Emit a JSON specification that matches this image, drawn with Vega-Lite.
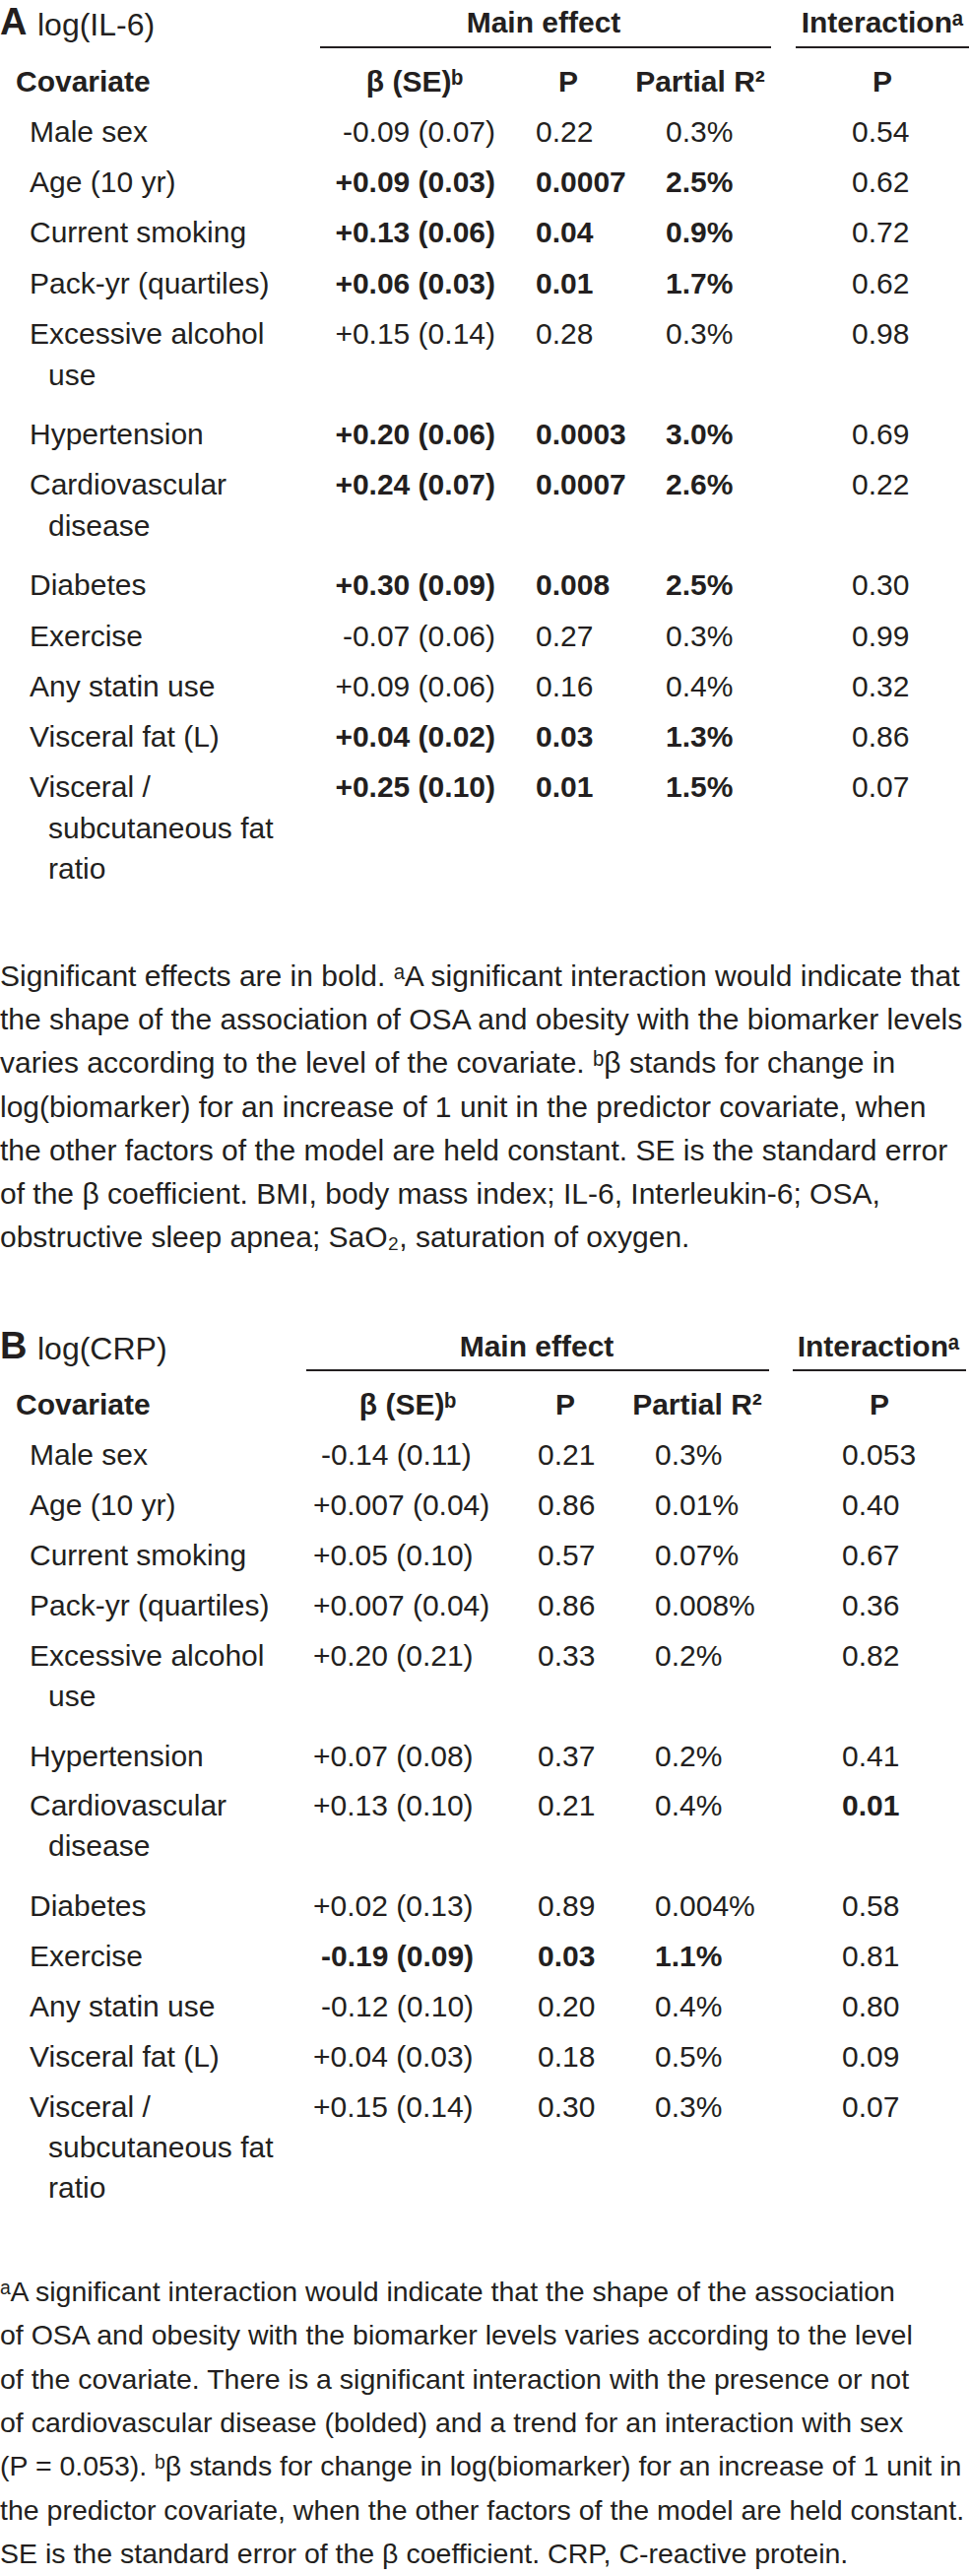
{
  "$schema": "https://vega.github.io/schema/vega-lite/v6.json",
  "padding": 0,
  "background": "white",
  "spacing": 45,
  "config": {
    "view": {"stroke": null},
    "text": {"font": "Liberation Sans, Arial, sans-serif", "fontSize": 30, "fill": "#231f20", "baseline": "middle"},
    "rule": {"stroke": "#231f20", "strokeWidth": 2}
  },
  "datasets": {
    "panels": [{"panel": "A", "biomarker": "log(IL-6)"}, {"panel": "B", "biomarker": "log(CRP)"}],
    "groups": [{"group": "Main effect"}, {"group": "Interactionᵃ"}],
    "columns": [
      {"column": "covariate", "label": "Covariate"},
      {"column": "beta", "label": "β (SE)ᵇ"},
      {"column": "p", "label": "P"},
      {"column": "r2", "label": "Partial R²"},
      {"column": "pint", "label": "P"}
    ],
    "il6": [
      {"line": 0, "covariate": "Male sex", "beta": "-0.09 (0.07)", "p": "0.22", "r2": "0.3%", "pint": "0.54", "main_sig": false, "int_sig": false},
      {"line": 1, "covariate": "Age (10 yr)", "beta": "+0.09 (0.03)", "p": "0.0007", "r2": "2.5%", "pint": "0.62", "main_sig": true, "int_sig": false},
      {"line": 2, "covariate": "Current smoking", "beta": "+0.13 (0.06)", "p": "0.04", "r2": "0.9%", "pint": "0.72", "main_sig": true, "int_sig": false},
      {"line": 3, "covariate": "Pack-yr (quartiles)", "beta": "+0.06 (0.03)", "p": "0.01", "r2": "1.7%", "pint": "0.62", "main_sig": true, "int_sig": false},
      {"line": 4, "covariate": "Excessive alcohol", "covariate_more": "use", "beta": "+0.15 (0.14)", "p": "0.28", "r2": "0.3%", "pint": "0.98", "main_sig": false, "int_sig": false},
      {"line": 6, "covariate": "Hypertension", "beta": "+0.20 (0.06)", "p": "0.0003", "r2": "3.0%", "pint": "0.69", "main_sig": true, "int_sig": false},
      {"line": 7, "covariate": "Cardiovascular", "covariate_more": "disease", "beta": "+0.24 (0.07)", "p": "0.0007", "r2": "2.6%", "pint": "0.22", "main_sig": true, "int_sig": false},
      {"line": 9, "covariate": "Diabetes", "beta": "+0.30 (0.09)", "p": "0.008", "r2": "2.5%", "pint": "0.30", "main_sig": true, "int_sig": false},
      {"line": 10, "covariate": "Exercise", "beta": "-0.07 (0.06)", "p": "0.27", "r2": "0.3%", "pint": "0.99", "main_sig": false, "int_sig": false},
      {"line": 11, "covariate": "Any statin use", "beta": "+0.09 (0.06)", "p": "0.16", "r2": "0.4%", "pint": "0.32", "main_sig": false, "int_sig": false},
      {"line": 12, "covariate": "Visceral fat (L)", "beta": "+0.04 (0.02)", "p": "0.03", "r2": "1.3%", "pint": "0.86", "main_sig": true, "int_sig": false},
      {"line": 13, "covariate": "Visceral /", "covariate_more": "subcutaneous fat\nratio", "beta": "+0.25 (0.10)", "p": "0.01", "r2": "1.5%", "pint": "0.07", "main_sig": true, "int_sig": false}
    ],
    "crp": [
      {"line": 0, "covariate": "Male sex", "beta": "-0.14 (0.11)", "p": "0.21", "r2": "0.3%", "pint": "0.053", "main_sig": false, "int_sig": false},
      {"line": 1, "covariate": "Age (10 yr)", "beta": "+0.007 (0.04)", "p": "0.86", "r2": "0.01%", "pint": "0.40", "main_sig": false, "int_sig": false},
      {"line": 2, "covariate": "Current smoking", "beta": "+0.05 (0.10)", "p": "0.57", "r2": "0.07%", "pint": "0.67", "main_sig": false, "int_sig": false},
      {"line": 3, "covariate": "Pack-yr (quartiles)", "beta": "+0.007 (0.04)", "p": "0.86", "r2": "0.008%", "pint": "0.36", "main_sig": false, "int_sig": false},
      {"line": 4, "covariate": "Excessive alcohol", "covariate_more": "use", "beta": "+0.20 (0.21)", "p": "0.33", "r2": "0.2%", "pint": "0.82", "main_sig": false, "int_sig": false},
      {"line": 6, "covariate": "Hypertension", "beta": "+0.07 (0.08)", "p": "0.37", "r2": "0.2%", "pint": "0.41", "main_sig": false, "int_sig": false},
      {"line": 7, "covariate": "Cardiovascular", "covariate_more": "disease", "beta": "+0.13 (0.10)", "p": "0.21", "r2": "0.4%", "pint": "0.01", "main_sig": false, "int_sig": true},
      {"line": 9, "covariate": "Diabetes", "beta": "+0.02 (0.13)", "p": "0.89", "r2": "0.004%", "pint": "0.58", "main_sig": false, "int_sig": false},
      {"line": 10, "covariate": "Exercise", "beta": "-0.19 (0.09)", "p": "0.03", "r2": "1.1%", "pint": "0.81", "main_sig": true, "int_sig": false},
      {"line": 11, "covariate": "Any statin use", "beta": "-0.12 (0.10)", "p": "0.20", "r2": "0.4%", "pint": "0.80", "main_sig": false, "int_sig": false},
      {"line": 12, "covariate": "Visceral fat (L)", "beta": "+0.04 (0.03)", "p": "0.18", "r2": "0.5%", "pint": "0.09", "main_sig": false, "int_sig": false},
      {"line": 13, "covariate": "Visceral /", "covariate_more": "subcutaneous fat\nratio", "beta": "+0.15 (0.14)", "p": "0.30", "r2": "0.3%", "pint": "0.07", "main_sig": false, "int_sig": false}
    ],
    "notesA": [
      {"line": 0, "note": "Significant effects are in bold. ᵃA significant interaction would indicate that"},
      {"line": 1, "note": "the shape of the association of OSA and obesity with the biomarker levels"},
      {"line": 2, "note": "varies according to the level of the covariate. ᵇβ stands for change in"},
      {"line": 3, "note": "log(biomarker) for an increase of 1 unit in the predictor covariate, when"},
      {"line": 4, "note": "the other factors of the model are held constant. SE is the standard error"},
      {"line": 5, "note": "of the β coefficient. BMI, body mass index; IL-6, Interleukin-6; OSA,"},
      {"line": 6, "note": "obstructive sleep apnea; SaO₂, saturation of oxygen."}
    ],
    "notesB": [
      {"line": 0, "note": "ᵃA significant interaction would indicate that the shape of the association"},
      {"line": 1, "note": "of OSA and obesity with the biomarker levels varies according to the level"},
      {"line": 2, "note": "of the covariate. There is a significant interaction with the presence or not"},
      {"line": 3, "note": "of cardiovascular disease (bolded) and a trend for an interaction with sex"},
      {"line": 4, "note": "(P = 0.053). ᵇβ stands for change in log(biomarker) for an increase of 1 unit in"},
      {"line": 5, "note": "the predictor covariate, when the other factors of the model are held constant."},
      {"line": 6, "note": "SE is the standard error of the β coefficient. CRP, C-reactive protein."}
    ]
  },
  "vconcat": [
    {
      "spacing": 0,
      "bounds": "flush",
      "vconcat": [
        {
          "width": 985, "height": 48,
          "layer": [
            {"data": {"name": "panels"}, "transform": [{"filter": "datum.panel == 'A'"}],
             "mark": {"type": "text", "align": "left", "fontWeight": "bold", "fontSize": 38},
             "encoding": {"text": {"field": "panel"}, "x": {"datum": 0, "type": "quantitative", "axis": null, "scale": {"domain": [0,1,2,3,4,5,6,7], "range": [0,38,325,552,783,808,896,984], "zero": false, "nice": false}}}},
            {"data": {"name": "panels"}, "transform": [{"filter": "datum.panel == 'A'"}],
             "mark": {"type": "text", "align": "left", "fontSize": 32, "dy": 2},
             "encoding": {"text": {"field": "biomarker"}, "x": {"datum": 1, "type": "quantitative", "axis": null, "scale": {"domain": [0,1,2,3,4,5,6,7], "range": [0,38,325,552,783,808,896,984], "zero": false, "nice": false}}}},
            {"data": {"name": "groups"}, "transform": [{"filter": "datum.group == 'Main effect'"}],
             "mark": {"type": "text", "align": "center", "fontWeight": "bold"},
             "encoding": {"text": {"field": "group"}, "x": {"datum": 3, "type": "quantitative", "axis": null, "scale": {"domain": [0,1,2,3,4,5,6,7], "range": [0,38,325,552,783,808,896,984], "zero": false, "nice": false}}}},
            {"data": {"name": "groups"}, "transform": [{"filter": "datum.group != 'Main effect'"}],
             "mark": {"type": "text", "align": "center", "fontWeight": "bold"},
             "encoding": {"text": {"field": "group"}, "x": {"datum": 6, "type": "quantitative", "axis": null, "scale": {"domain": [0,1,2,3,4,5,6,7], "range": [0,38,325,552,783,808,896,984], "zero": false, "nice": false}}}},
            {"data": {"name": "groups"}, "transform": [{"filter": "datum.group == 'Main effect'"}],
             "mark": {"type": "rule"},
             "encoding": {"x": {"datum": 2, "type": "quantitative", "axis": null, "scale": {"domain": [0,1,2,3,4,5,6,7], "range": [0,38,325,552,783,808,896,984], "zero": false, "nice": false}}, "x2": {"datum": 4}, "y": {"value": "height"}}},
            {"data": {"name": "groups"}, "transform": [{"filter": "datum.group != 'Main effect'"}],
             "mark": {"type": "rule"},
             "encoding": {"x": {"datum": 5, "type": "quantitative", "axis": null, "scale": {"domain": [0,1,2,3,4,5,6,7], "range": [0,38,325,552,783,808,896,984], "zero": false, "nice": false}}, "x2": {"datum": 7}, "y": {"value": "height"}}}
          ]
        },
        {
          "width": 985, "height": 912,
          "layer": [
            {"data": {"name": "columns"}, "transform": [{"filter": "datum.column == 'covariate'"}],
             "mark": {"type": "text", "align": "left", "fontWeight": "bold"},
             "encoding": {"text": {"field": "label"},
               "x": {"datum": 0, "type": "quantitative", "axis": null, "scale": {"domain": [0,1,2,3,4,5,6,7,8,9], "range": [16,30,421,503,544,577,676,711,865,896], "zero": false, "nice": false}},
               "y": {"datum": -1, "type": "quantitative", "axis": null, "scale": {"domain": [-1, 13], "range": [36, 752], "zero": false, "nice": false}}}},
            {"data": {"name": "columns"}, "transform": [{"filter": "datum.column == 'beta'"}],
             "mark": {"type": "text", "align": "center", "fontWeight": "bold"},
             "encoding": {"text": {"field": "label"},
               "x": {"datum": 2, "type": "quantitative", "axis": null, "scale": {"domain": [0,1,2,3,4,5,6,7,8,9], "range": [16,30,421,503,544,577,676,711,865,896], "zero": false, "nice": false}},
               "y": {"datum": -1, "type": "quantitative", "axis": null, "scale": {"domain": [-1, 13], "range": [36, 752], "zero": false, "nice": false}}}},
            {"data": {"name": "columns"}, "transform": [{"filter": "datum.column == 'p'"}],
             "mark": {"type": "text", "align": "center", "fontWeight": "bold"},
             "encoding": {"text": {"field": "label"},
               "x": {"datum": 5, "type": "quantitative", "axis": null, "scale": {"domain": [0,1,2,3,4,5,6,7,8,9], "range": [16,30,421,503,544,577,676,711,865,896], "zero": false, "nice": false}},
               "y": {"datum": -1, "type": "quantitative", "axis": null, "scale": {"domain": [-1, 13], "range": [36, 752], "zero": false, "nice": false}}}},
            {"data": {"name": "columns"}, "transform": [{"filter": "datum.column == 'r2'"}],
             "mark": {"type": "text", "align": "center", "fontWeight": "bold"},
             "encoding": {"text": {"field": "label"},
               "x": {"datum": 7, "type": "quantitative", "axis": null, "scale": {"domain": [0,1,2,3,4,5,6,7,8,9], "range": [16,30,421,503,544,577,676,711,865,896], "zero": false, "nice": false}},
               "y": {"datum": -1, "type": "quantitative", "axis": null, "scale": {"domain": [-1, 13], "range": [36, 752], "zero": false, "nice": false}}}},
            {"data": {"name": "columns"}, "transform": [{"filter": "datum.column == 'pint'"}],
             "mark": {"type": "text", "align": "center", "fontWeight": "bold"},
             "encoding": {"text": {"field": "label"},
               "x": {"datum": 9, "type": "quantitative", "axis": null, "scale": {"domain": [0,1,2,3,4,5,6,7,8,9], "range": [16,30,421,503,544,577,676,711,865,896], "zero": false, "nice": false}},
               "y": {"datum": -1, "type": "quantitative", "axis": null, "scale": {"domain": [-1, 13], "range": [36, 752], "zero": false, "nice": false}}}},
            {"data": {"name": "il6"},
             "mark": {"type": "text", "align": "left"},
             "encoding": {"text": {"field": "covariate"},
               "x": {"datum": 1, "type": "quantitative", "axis": null, "scale": {"domain": [0,1,2,3,4,5,6,7,8,9], "range": [16,30,421,503,544,577,676,711,865,896], "zero": false, "nice": false}},
               "y": {"field": "line", "type": "quantitative", "axis": null, "scale": {"domain": [-1, 13], "range": [36, 752], "zero": false, "nice": false}}}},
            {"data": {"name": "il6"}, "transform": [{"filter": "datum.covariate_more"}],
             "mark": {"type": "text", "align": "left", "lineBreak": "\n", "lineHeight": 41, "dx": 19, "dy": 42},
             "encoding": {"text": {"field": "covariate_more"},
               "x": {"datum": 1, "type": "quantitative", "axis": null, "scale": {"domain": [0,1,2,3,4,5,6,7,8,9], "range": [16,30,421,503,544,577,676,711,865,896], "zero": false, "nice": false}},
               "y": {"field": "line", "type": "quantitative", "axis": null, "scale": {"domain": [-1, 13], "range": [36, 752], "zero": false, "nice": false}}}},
            {"data": {"name": "il6"}, "transform": [{"filter": "!datum.main_sig"}],
             "mark": {"type": "text", "align": "right"},
             "encoding": {"text": {"field": "beta"},
               "x": {"datum": 3, "type": "quantitative", "axis": null, "scale": {"domain": [0,1,2,3,4,5,6,7,8,9], "range": [16,30,421,503,544,577,676,711,865,896], "zero": false, "nice": false}},
               "y": {"field": "line", "type": "quantitative", "axis": null, "scale": {"domain": [-1, 13], "range": [36, 752], "zero": false, "nice": false}}}},
            {"data": {"name": "il6"}, "transform": [{"filter": "datum.main_sig"}],
             "mark": {"type": "text", "align": "right", "fontWeight": "bold"},
             "encoding": {"text": {"field": "beta"},
               "x": {"datum": 3, "type": "quantitative", "axis": null, "scale": {"domain": [0,1,2,3,4,5,6,7,8,9], "range": [16,30,421,503,544,577,676,711,865,896], "zero": false, "nice": false}},
               "y": {"field": "line", "type": "quantitative", "axis": null, "scale": {"domain": [-1, 13], "range": [36, 752], "zero": false, "nice": false}}}},
            {"data": {"name": "il6"}, "transform": [{"filter": "!datum.main_sig"}],
             "mark": {"type": "text", "align": "left"},
             "encoding": {"text": {"field": "p"},
               "x": {"datum": 4, "type": "quantitative", "axis": null, "scale": {"domain": [0,1,2,3,4,5,6,7,8,9], "range": [16,30,421,503,544,577,676,711,865,896], "zero": false, "nice": false}},
               "y": {"field": "line", "type": "quantitative", "axis": null, "scale": {"domain": [-1, 13], "range": [36, 752], "zero": false, "nice": false}}}},
            {"data": {"name": "il6"}, "transform": [{"filter": "datum.main_sig"}],
             "mark": {"type": "text", "align": "left", "fontWeight": "bold"},
             "encoding": {"text": {"field": "p"},
               "x": {"datum": 4, "type": "quantitative", "axis": null, "scale": {"domain": [0,1,2,3,4,5,6,7,8,9], "range": [16,30,421,503,544,577,676,711,865,896], "zero": false, "nice": false}},
               "y": {"field": "line", "type": "quantitative", "axis": null, "scale": {"domain": [-1, 13], "range": [36, 752], "zero": false, "nice": false}}}},
            {"data": {"name": "il6"}, "transform": [{"filter": "!datum.main_sig"}],
             "mark": {"type": "text", "align": "left"},
             "encoding": {"text": {"field": "r2"},
               "x": {"datum": 6, "type": "quantitative", "axis": null, "scale": {"domain": [0,1,2,3,4,5,6,7,8,9], "range": [16,30,421,503,544,577,676,711,865,896], "zero": false, "nice": false}},
               "y": {"field": "line", "type": "quantitative", "axis": null, "scale": {"domain": [-1, 13], "range": [36, 752], "zero": false, "nice": false}}}},
            {"data": {"name": "il6"}, "transform": [{"filter": "datum.main_sig"}],
             "mark": {"type": "text", "align": "left", "fontWeight": "bold"},
             "encoding": {"text": {"field": "r2"},
               "x": {"datum": 6, "type": "quantitative", "axis": null, "scale": {"domain": [0,1,2,3,4,5,6,7,8,9], "range": [16,30,421,503,544,577,676,711,865,896], "zero": false, "nice": false}},
               "y": {"field": "line", "type": "quantitative", "axis": null, "scale": {"domain": [-1, 13], "range": [36, 752], "zero": false, "nice": false}}}},
            {"data": {"name": "il6"}, "transform": [{"filter": "!datum.int_sig"}],
             "mark": {"type": "text", "align": "left"},
             "encoding": {"text": {"field": "pint"},
               "x": {"datum": 8, "type": "quantitative", "axis": null, "scale": {"domain": [0,1,2,3,4,5,6,7,8,9], "range": [16,30,421,503,544,577,676,711,865,896], "zero": false, "nice": false}},
               "y": {"field": "line", "type": "quantitative", "axis": null, "scale": {"domain": [-1, 13], "range": [36, 752], "zero": false, "nice": false}}}}
          ]
        },
        {
          "width": 985, "height": 340,
          "data": {"name": "notesA"},
          "mark": {"type": "text", "align": "left", "fontSize": 30},
          "encoding": {
            "text": {"field": "note"},
            "x": {"datum": 0, "type": "quantitative", "axis": null, "scale": {"domain": [0, 1], "range": [0, 985], "zero": false, "nice": false}},
            "y": {"field": "line", "type": "quantitative", "axis": null, "scale": {"domain": [0, 6], "range": [32, 297], "zero": false, "nice": false}}
          }
        }
      ]
    },
    {
      "spacing": 0,
      "bounds": "flush",
      "vconcat": [
        {
          "width": 985, "height": 46,
          "layer": [
            {"data": {"name": "panels"}, "transform": [{"filter": "datum.panel == 'B'"}],
             "mark": {"type": "text", "align": "left", "fontWeight": "bold", "fontSize": 38},
             "encoding": {"text": {"field": "panel"}, "x": {"datum": 0, "type": "quantitative", "axis": null, "scale": {"domain": [0,1,2,3,4,5,6,7], "range": [0,38,311,545,781,805,892,981], "zero": false, "nice": false}}}},
            {"data": {"name": "panels"}, "transform": [{"filter": "datum.panel == 'B'"}],
             "mark": {"type": "text", "align": "left", "fontSize": 32, "dy": 2},
             "encoding": {"text": {"field": "biomarker"}, "x": {"datum": 1, "type": "quantitative", "axis": null, "scale": {"domain": [0,1,2,3,4,5,6,7], "range": [0,38,311,545,781,805,892,981], "zero": false, "nice": false}}}},
            {"data": {"name": "groups"}, "transform": [{"filter": "datum.group == 'Main effect'"}],
             "mark": {"type": "text", "align": "center", "fontWeight": "bold"},
             "encoding": {"text": {"field": "group"}, "x": {"datum": 3, "type": "quantitative", "axis": null, "scale": {"domain": [0,1,2,3,4,5,6,7], "range": [0,38,311,545,781,805,892,981], "zero": false, "nice": false}}}},
            {"data": {"name": "groups"}, "transform": [{"filter": "datum.group != 'Main effect'"}],
             "mark": {"type": "text", "align": "center", "fontWeight": "bold"},
             "encoding": {"text": {"field": "group"}, "x": {"datum": 6, "type": "quantitative", "axis": null, "scale": {"domain": [0,1,2,3,4,5,6,7], "range": [0,38,311,545,781,805,892,981], "zero": false, "nice": false}}}},
            {"data": {"name": "groups"}, "transform": [{"filter": "datum.group == 'Main effect'"}],
             "mark": {"type": "rule"},
             "encoding": {"x": {"datum": 2, "type": "quantitative", "axis": null, "scale": {"domain": [0,1,2,3,4,5,6,7], "range": [0,38,311,545,781,805,892,981], "zero": false, "nice": false}}, "x2": {"datum": 4}, "y": {"value": "height"}}},
            {"data": {"name": "groups"}, "transform": [{"filter": "datum.group != 'Main effect'"}],
             "mark": {"type": "rule"},
             "encoding": {"x": {"datum": 5, "type": "quantitative", "axis": null, "scale": {"domain": [0,1,2,3,4,5,6,7], "range": [0,38,311,545,781,805,892,981], "zero": false, "nice": false}}, "x2": {"datum": 7}, "y": {"value": "height"}}}
          ]
        },
        {
          "width": 985, "height": 909,
          "layer": [
            {"data": {"name": "columns"}, "transform": [{"filter": "datum.column == 'covariate'"}],
             "mark": {"type": "text", "align": "left", "fontWeight": "bold"},
             "encoding": {"text": {"field": "label"},
               "x": {"datum": 0, "type": "quantitative", "axis": null, "scale": {"domain": [0,1,2,3,4,5,6,7,8,9,10], "range": [16,30,318,326,414,546,574,665,708,855,893], "zero": false, "nice": false}},
               "y": {"datum": -1, "type": "quantitative", "axis": null, "scale": {"domain": [-1, 13], "range": [36, 749], "zero": false, "nice": false}}}},
            {"data": {"name": "columns"}, "transform": [{"filter": "datum.column == 'beta'"}],
             "mark": {"type": "text", "align": "center", "fontWeight": "bold"},
             "encoding": {"text": {"field": "label"},
               "x": {"datum": 4, "type": "quantitative", "axis": null, "scale": {"domain": [0,1,2,3,4,5,6,7,8,9,10], "range": [16,30,318,326,414,546,574,665,708,855,893], "zero": false, "nice": false}},
               "y": {"datum": -1, "type": "quantitative", "axis": null, "scale": {"domain": [-1, 13], "range": [36, 749], "zero": false, "nice": false}}}},
            {"data": {"name": "columns"}, "transform": [{"filter": "datum.column == 'p'"}],
             "mark": {"type": "text", "align": "center", "fontWeight": "bold"},
             "encoding": {"text": {"field": "label"},
               "x": {"datum": 6, "type": "quantitative", "axis": null, "scale": {"domain": [0,1,2,3,4,5,6,7,8,9,10], "range": [16,30,318,326,414,546,574,665,708,855,893], "zero": false, "nice": false}},
               "y": {"datum": -1, "type": "quantitative", "axis": null, "scale": {"domain": [-1, 13], "range": [36, 749], "zero": false, "nice": false}}}},
            {"data": {"name": "columns"}, "transform": [{"filter": "datum.column == 'r2'"}],
             "mark": {"type": "text", "align": "center", "fontWeight": "bold"},
             "encoding": {"text": {"field": "label"},
               "x": {"datum": 8, "type": "quantitative", "axis": null, "scale": {"domain": [0,1,2,3,4,5,6,7,8,9,10], "range": [16,30,318,326,414,546,574,665,708,855,893], "zero": false, "nice": false}},
               "y": {"datum": -1, "type": "quantitative", "axis": null, "scale": {"domain": [-1, 13], "range": [36, 749], "zero": false, "nice": false}}}},
            {"data": {"name": "columns"}, "transform": [{"filter": "datum.column == 'pint'"}],
             "mark": {"type": "text", "align": "center", "fontWeight": "bold"},
             "encoding": {"text": {"field": "label"},
               "x": {"datum": 10, "type": "quantitative", "axis": null, "scale": {"domain": [0,1,2,3,4,5,6,7,8,9,10], "range": [16,30,318,326,414,546,574,665,708,855,893], "zero": false, "nice": false}},
               "y": {"datum": -1, "type": "quantitative", "axis": null, "scale": {"domain": [-1, 13], "range": [36, 749], "zero": false, "nice": false}}}},
            {"data": {"name": "crp"},
             "mark": {"type": "text", "align": "left"},
             "encoding": {"text": {"field": "covariate"},
               "x": {"datum": 1, "type": "quantitative", "axis": null, "scale": {"domain": [0,1,2,3,4,5,6,7,8,9,10], "range": [16,30,318,326,414,546,574,665,708,855,893], "zero": false, "nice": false}},
               "y": {"field": "line", "type": "quantitative", "axis": null, "scale": {"domain": [-1, 13], "range": [36, 749], "zero": false, "nice": false}}}},
            {"data": {"name": "crp"}, "transform": [{"filter": "datum.covariate_more"}],
             "mark": {"type": "text", "align": "left", "lineBreak": "\n", "lineHeight": 41, "dx": 19, "dy": 41},
             "encoding": {"text": {"field": "covariate_more"},
               "x": {"datum": 1, "type": "quantitative", "axis": null, "scale": {"domain": [0,1,2,3,4,5,6,7,8,9,10], "range": [16,30,318,326,414,546,574,665,708,855,893], "zero": false, "nice": false}},
               "y": {"field": "line", "type": "quantitative", "axis": null, "scale": {"domain": [-1, 13], "range": [36, 749], "zero": false, "nice": false}}}},
            {"data": {"name": "crp"}, "transform": [{"filter": "!datum.main_sig && indexof(datum.beta, '+') == 0"}],
             "mark": {"type": "text", "align": "left"},
             "encoding": {"text": {"field": "beta"},
               "x": {"datum": 2, "type": "quantitative", "axis": null, "scale": {"domain": [0,1,2,3,4,5,6,7,8,9,10], "range": [16,30,318,326,414,546,574,665,708,855,893], "zero": false, "nice": false}},
               "y": {"field": "line", "type": "quantitative", "axis": null, "scale": {"domain": [-1, 13], "range": [36, 749], "zero": false, "nice": false}}}},
            {"data": {"name": "crp"}, "transform": [{"filter": "!datum.main_sig && indexof(datum.beta, '-') == 0"}],
             "mark": {"type": "text", "align": "left"},
             "encoding": {"text": {"field": "beta"},
               "x": {"datum": 3, "type": "quantitative", "axis": null, "scale": {"domain": [0,1,2,3,4,5,6,7,8,9,10], "range": [16,30,318,326,414,546,574,665,708,855,893], "zero": false, "nice": false}},
               "y": {"field": "line", "type": "quantitative", "axis": null, "scale": {"domain": [-1, 13], "range": [36, 749], "zero": false, "nice": false}}}},
            {"data": {"name": "crp"}, "transform": [{"filter": "datum.main_sig"}],
             "mark": {"type": "text", "align": "left", "fontWeight": "bold"},
             "encoding": {"text": {"field": "beta"},
               "x": {"datum": 3, "type": "quantitative", "axis": null, "scale": {"domain": [0,1,2,3,4,5,6,7,8,9,10], "range": [16,30,318,326,414,546,574,665,708,855,893], "zero": false, "nice": false}},
               "y": {"field": "line", "type": "quantitative", "axis": null, "scale": {"domain": [-1, 13], "range": [36, 749], "zero": false, "nice": false}}}},
            {"data": {"name": "crp"}, "transform": [{"filter": "!datum.main_sig"}],
             "mark": {"type": "text", "align": "left"},
             "encoding": {"text": {"field": "p"},
               "x": {"datum": 5, "type": "quantitative", "axis": null, "scale": {"domain": [0,1,2,3,4,5,6,7,8,9,10], "range": [16,30,318,326,414,546,574,665,708,855,893], "zero": false, "nice": false}},
               "y": {"field": "line", "type": "quantitative", "axis": null, "scale": {"domain": [-1, 13], "range": [36, 749], "zero": false, "nice": false}}}},
            {"data": {"name": "crp"}, "transform": [{"filter": "datum.main_sig"}],
             "mark": {"type": "text", "align": "left", "fontWeight": "bold"},
             "encoding": {"text": {"field": "p"},
               "x": {"datum": 5, "type": "quantitative", "axis": null, "scale": {"domain": [0,1,2,3,4,5,6,7,8,9,10], "range": [16,30,318,326,414,546,574,665,708,855,893], "zero": false, "nice": false}},
               "y": {"field": "line", "type": "quantitative", "axis": null, "scale": {"domain": [-1, 13], "range": [36, 749], "zero": false, "nice": false}}}},
            {"data": {"name": "crp"}, "transform": [{"filter": "!datum.main_sig"}],
             "mark": {"type": "text", "align": "left"},
             "encoding": {"text": {"field": "r2"},
               "x": {"datum": 7, "type": "quantitative", "axis": null, "scale": {"domain": [0,1,2,3,4,5,6,7,8,9,10], "range": [16,30,318,326,414,546,574,665,708,855,893], "zero": false, "nice": false}},
               "y": {"field": "line", "type": "quantitative", "axis": null, "scale": {"domain": [-1, 13], "range": [36, 749], "zero": false, "nice": false}}}},
            {"data": {"name": "crp"}, "transform": [{"filter": "datum.main_sig"}],
             "mark": {"type": "text", "align": "left", "fontWeight": "bold"},
             "encoding": {"text": {"field": "r2"},
               "x": {"datum": 7, "type": "quantitative", "axis": null, "scale": {"domain": [0,1,2,3,4,5,6,7,8,9,10], "range": [16,30,318,326,414,546,574,665,708,855,893], "zero": false, "nice": false}},
               "y": {"field": "line", "type": "quantitative", "axis": null, "scale": {"domain": [-1, 13], "range": [36, 749], "zero": false, "nice": false}}}},
            {"data": {"name": "crp"}, "transform": [{"filter": "!datum.int_sig"}],
             "mark": {"type": "text", "align": "left"},
             "encoding": {"text": {"field": "pint"},
               "x": {"datum": 9, "type": "quantitative", "axis": null, "scale": {"domain": [0,1,2,3,4,5,6,7,8,9,10], "range": [16,30,318,326,414,546,574,665,708,855,893], "zero": false, "nice": false}},
               "y": {"field": "line", "type": "quantitative", "axis": null, "scale": {"domain": [-1, 13], "range": [36, 749], "zero": false, "nice": false}}}},
            {"data": {"name": "crp"}, "transform": [{"filter": "datum.int_sig"}],
             "mark": {"type": "text", "align": "left", "fontWeight": "bold"},
             "encoding": {"text": {"field": "pint"},
               "x": {"datum": 9, "type": "quantitative", "axis": null, "scale": {"domain": [0,1,2,3,4,5,6,7,8,9,10], "range": [16,30,318,326,414,546,574,665,708,855,893], "zero": false, "nice": false}},
               "y": {"field": "line", "type": "quantitative", "axis": null, "scale": {"domain": [-1, 13], "range": [36, 749], "zero": false, "nice": false}}}}
          ]
        },
        {
          "width": 985, "height": 315,
          "data": {"name": "notesB"},
          "mark": {"type": "text", "align": "left", "fontSize": 28.5},
          "encoding": {
            "text": {"field": "note"},
            "x": {"datum": 0, "type": "quantitative", "axis": null, "scale": {"domain": [0, 1], "range": [0, 985], "zero": false, "nice": false}},
            "y": {"field": "line", "type": "quantitative", "axis": null, "scale": {"domain": [0, 6], "range": [27, 293], "zero": false, "nice": false}}
          }
        }
      ]
    }
  ]
}
